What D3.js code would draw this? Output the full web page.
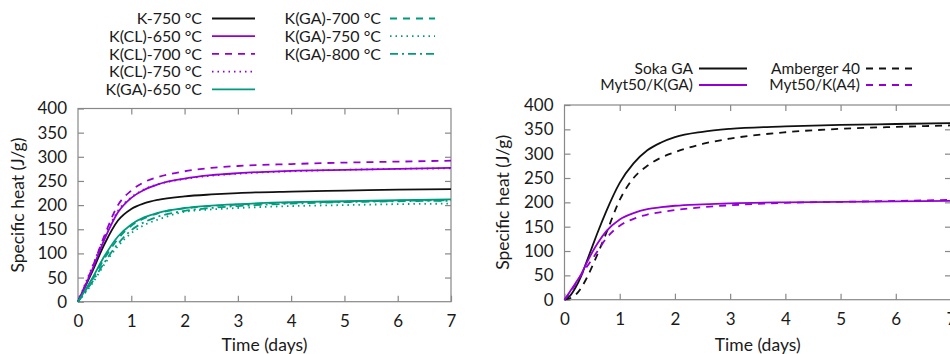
<!DOCTYPE html>
<html>
<head>
<meta charset="utf-8">
<script src="https://d3js.org/d3.v7.min.js"></script>
<style>
  body { margin: 0; background: white; }
  svg text { font-family: Lato, "Liberation Sans", sans-serif; fill: #1a1a1a; }
</style>
</head>
<body>
<script>
// ---- data ----
const daysLeft = [0, 0.25, 0.5, 0.75, 1, 1.25, 1.5, 2, 2.5, 3, 4, 5, 6, 7];
const k750   = [0, 58, 120, 168, 192, 204, 211, 218, 222, 225, 228, 230, 232, 233];
const kcl650 = [0, 62, 130, 185, 215, 232, 243, 255, 262, 266, 271, 273, 275, 277];
const kcl700 = [0, 65, 138, 200, 230, 248, 258, 270, 277, 281, 285, 288, 290, 292];
const kcl750 = [0, 68, 135, 188, 216, 233, 243, 254, 261, 265, 270, 273, 275, 276];
const kga650 = [0, 45, 95, 135, 160, 175, 184, 194, 199, 202, 206, 208, 210, 212];
const kga700 = [0, 42, 90, 130, 157, 173, 183, 193, 198, 201, 205, 207, 209, 210];
const kga750 = [0, 35, 78, 115, 142, 159, 170, 186, 191, 194, 198, 200, 202, 203];
const kga800 = [0, 38, 82, 120, 148, 165, 176, 188, 194, 198, 203, 206, 208, 209];

const daysRight = [0, 0.1, 0.2, 0.3, 0.4, 0.5, 0.6, 0.75, 1, 1.25, 1.5, 1.75, 2, 2.5, 3, 4, 5, 6, 7];
const sokaGA  = [0, 8, 25, 48, 78, 108, 138, 180, 240, 280, 307, 323, 334, 345, 351, 356, 359, 361, 363];
const amb40   = [0, 3, 10, 24, 44, 68, 94, 135, 205, 250, 275, 292, 303, 320, 331, 344, 351, 355, 358];
const mytKGA  = [0, 17, 34, 52, 75, 97, 116, 140, 165, 178, 186, 190, 193, 196, 198, 200, 201, 202, 203];
const mytKA4  = [0, 15, 32, 50, 67, 83, 100, 125, 152, 166, 175, 180, 184, 190, 194, 199, 201, 203, 205];

const xTicks = [0, 1, 2, 3, 4, 5, 6, 7];
const yTicks = [0, 50, 100, 150, 200, 250, 300, 350, 400];

const BLACK = "#111111", PURPLE = "#9400d3", TEAL = "#009a7e";
const SOLID = null, DASH = "7,6", DOT = "1.5,4", DASHDOT = "8,4,2,4";

const leftSeries = [
  {name: "K-750 °C",     v: k750,   c: BLACK,  d: SOLID},
  {name: "K(CL)-650 °C", v: kcl650, c: PURPLE, d: SOLID},
  {name: "K(CL)-700 °C", v: kcl700, c: PURPLE, d: DASH},
  {name: "K(CL)-750 °C", v: kcl750, c: PURPLE, d: DOT},
  {name: "K(GA)-650 °C", v: kga650, c: TEAL,   d: SOLID},
  {name: "K(GA)-700 °C", v: kga700, c: TEAL,   d: DASH},
  {name: "K(GA)-750 °C", v: kga750, c: TEAL,   d: DOT},
  {name: "K(GA)-800 °C", v: kga800, c: TEAL,   d: DASHDOT}
];
const rightSeries = [
  {name: "Soka GA",      v: sokaGA, c: BLACK,  d: SOLID},
  {name: "Amberger 40",  v: amb40,  c: BLACK,  d: DASH},
  {name: "Myt50/K(GA)",  v: mytKGA, c: PURPLE, d: SOLID},
  {name: "Myt50/K(A4)",  v: mytKA4, c: PURPLE, d: DASH}
];

const svg = d3.select("body").append("svg").attr("width", 950).attr("height", 354);

function panel(days, series, box, yLabelX, legend, legendSize) {
  const x = d3.scaleLinear().domain([0, 7]).range([box.x0, box.x1]);
  const y = d3.scaleLinear().domain([0, 400]).range([box.y0, box.y1]);
  const g = svg.append("g");
  const frame = "#888";

  // frame
  g.append("rect").attr("x", box.x0).attr("y", box.y1)
    .attr("width", box.x1 - box.x0).attr("height", box.y0 - box.y1)
    .attr("fill", "none").attr("stroke", frame).attr("stroke-width", 1.2);

  // inward ticks on all sides (gnuplot style mirror)
  const bottom = g.append("g").attr("transform", `translate(0,${box.y0})`)
    .call(d3.axisBottom(x).tickValues(xTicks).tickFormat(d3.format("d"))
      .tickSizeInner(-6).tickSizeOuter(0).tickPadding(13));
  const top = g.append("g").attr("transform", `translate(0,${box.y1})`)
    .call(d3.axisTop(x).tickValues(xTicks.slice(1, -1)).tickSizeInner(-6).tickSizeOuter(0).tickFormat(""));
  const left = g.append("g").attr("transform", `translate(${box.x0},0)`)
    .call(d3.axisLeft(y).tickValues(yTicks).tickFormat(d3.format("d"))
      .tickSizeInner(-6).tickSizeOuter(0).tickPadding(11));
  const right = g.append("g").attr("transform", `translate(${box.x1},0)`)
    .call(d3.axisRight(y).tickValues(yTicks.slice(1, -1)).tickSizeInner(-6).tickSizeOuter(0).tickFormat(""));
  [bottom, top, left, right].forEach(a => {
    a.select(".domain").remove();
    a.selectAll("line").attr("stroke", frame).attr("stroke-width", 1.2);
    a.selectAll("text").attr("font-size", 17).attr("fill", "#1a1a1a")
      .style("font-family", "Lato, 'Liberation Sans', sans-serif");
  });

  // axis titles
  g.append("text").attr("x", (box.x0 + box.x1) / 2).attr("y", 351)
    .attr("text-anchor", "middle").attr("font-size", 17.5).text("Time (days)");
  g.append("text").attr("transform", `translate(${yLabelX},${(box.y0 + box.y1) / 2}) rotate(-90)`)
    .attr("text-anchor", "middle").attr("dy", "0.35em").attr("font-size", 17.5).text("Specific heat (J/g)");

  // curves
  const line = d3.line().x(d => x(d[0])).y(d => y(d[1])).curve(d3.curveMonotoneX);
  series.forEach(s => {
    g.append("path").datum(days.map((t, i) => [t, s.v[i]]))
      .attr("d", line).attr("fill", "none").attr("stroke", s.c)
      .attr("stroke-width", 1.8).attr("stroke-dasharray", s.d);
  });

  // legend
  legend.forEach(L => {
    const row = g.append("g").attr("transform", `translate(${L.tx},${L.ty})`);
    row.append("text").attr("x", 0).attr("y", 0).attr("dy", "0.35em")
      .attr("text-anchor", "end").attr("font-size", legendSize).text(L.s.name);
    row.append("line").attr("x1", L.l0).attr("x2", L.l1).attr("y1", 0).attr("y2", 0)
      .attr("stroke", L.s.c).attr("stroke-width", 1.8).attr("stroke-dasharray", L.s.d);
  });
}

const leftLegend = leftSeries.map((s, i) => i < 5
  ? {s, tx: 202, ty: 18.5 + i * 17.7, l0: 10, l1: 53}
  : {s, tx: 381, ty: 18.5 + (i - 5) * 17.7, l0: 9, l1: 54});
// Soka GA, Amberger 40 on row 1; the Myt50 pair on row 2
const rightLegend = rightSeries.map((s, i) => ({
  s, tx: i % 2 === 0 ? 693 : 860, ty: 68.5 + Math.floor(i / 2) * 16.5, l0: 6, l1: 54
}));
panel(daysLeft, leftSeries, {x0: 78, x1: 451, y0: 301.7, y1: 108.5}, 18, leftLegend, 16);
panel(daysRight, rightSeries, {x0: 564.5, x1: 951, y0: 299.7, y1: 105}, 503, rightLegend, 15.5);
</script>
</body>
</html>
